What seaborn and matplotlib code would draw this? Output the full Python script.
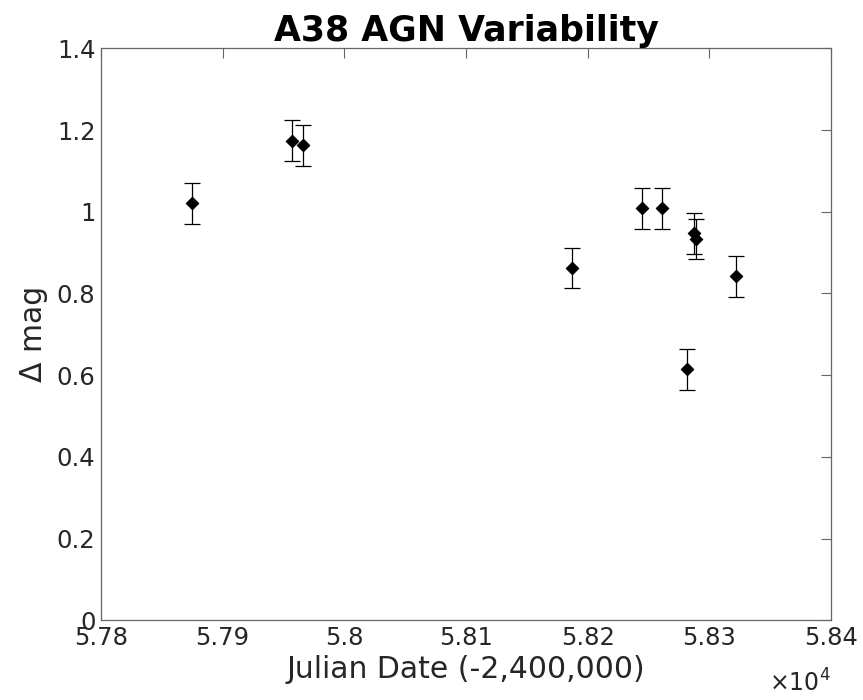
import numpy as np
import pandas as pd
import matplotlib
matplotlib.use("Agg")
import matplotlib.pyplot as plt
import seaborn as sns
from matplotlib.ticker import FuncFormatter

# Julian date (-2,400,000) and change in magnitude
jd = [57875, 57957, 57966, 58187, 58245, 58261, 58282, 58287, 58289, 58322]
dmag = [1.021, 1.174, 1.163, 0.862, 1.008, 1.008, 0.614, 0.947, 0.933, 0.842]
err = [0.05, 0.05, 0.05, 0.05, 0.05, 0.05, 0.05, 0.05, 0.05, 0.05]

df = pd.DataFrame({"jd": jd, "dmag": dmag, "err": err})

sns.set_style("white")
plt.rcParams["font.family"] = ["DejaVu Sans"]

fig = plt.figure(figsize=(8.63, 7.0), dpi=100)
ax = fig.add_axes([0.117, 0.114, 0.846, 0.817])

ax.errorbar(df["jd"], df["dmag"], yerr=df["err"], fmt="none", ecolor="black",
            elinewidth=0.9, capsize=5.5, capthick=0.9, zorder=2)
sns.scatterplot(data=df, x="jd", y="dmag", ax=ax, color="black", marker="D",
                s=40, edgecolor="black", linewidth=0.8, zorder=3)

ax.set_xlim(57800, 58400)
ax.set_ylim(0, 1.4)
ax.set_xticks(np.arange(57800, 58401, 100))
ax.set_yticks(np.arange(0, 1.41, 0.2))
ax.xaxis.set_major_formatter(FuncFormatter(lambda v, p: f"{v / 1e4:.4g}"))
ax.yaxis.set_major_formatter(FuncFormatter(lambda v, p: f"{v:.2g}"))

gray = "#262626"
for s in ax.spines.values():
    s.set_visible(True)
    s.set_color("#666666")
    s.set_linewidth(0.9)
ax.tick_params(direction="in", length=7, width=0.8, top=True, right=True,
               labelsize=17.5, colors="#666666", labelcolor=gray, pad=4)

ax.text(1.0, -0.124, r"$\times10^4$", transform=ax.transAxes, ha="right",
        va="baseline", fontsize=17, color=gray)

ax.set_xlabel("Julian Date (-2,400,000)", fontsize=21.5, color=gray, labelpad=4)
ax.set_ylabel("Δ mag", fontsize=21.5, color=gray, labelpad=6)
ax.set_title("A38 AGN Variability", fontsize=25, fontweight="bold", color="black", pad=5)

fig.savefig("out.png", dpi=100)
